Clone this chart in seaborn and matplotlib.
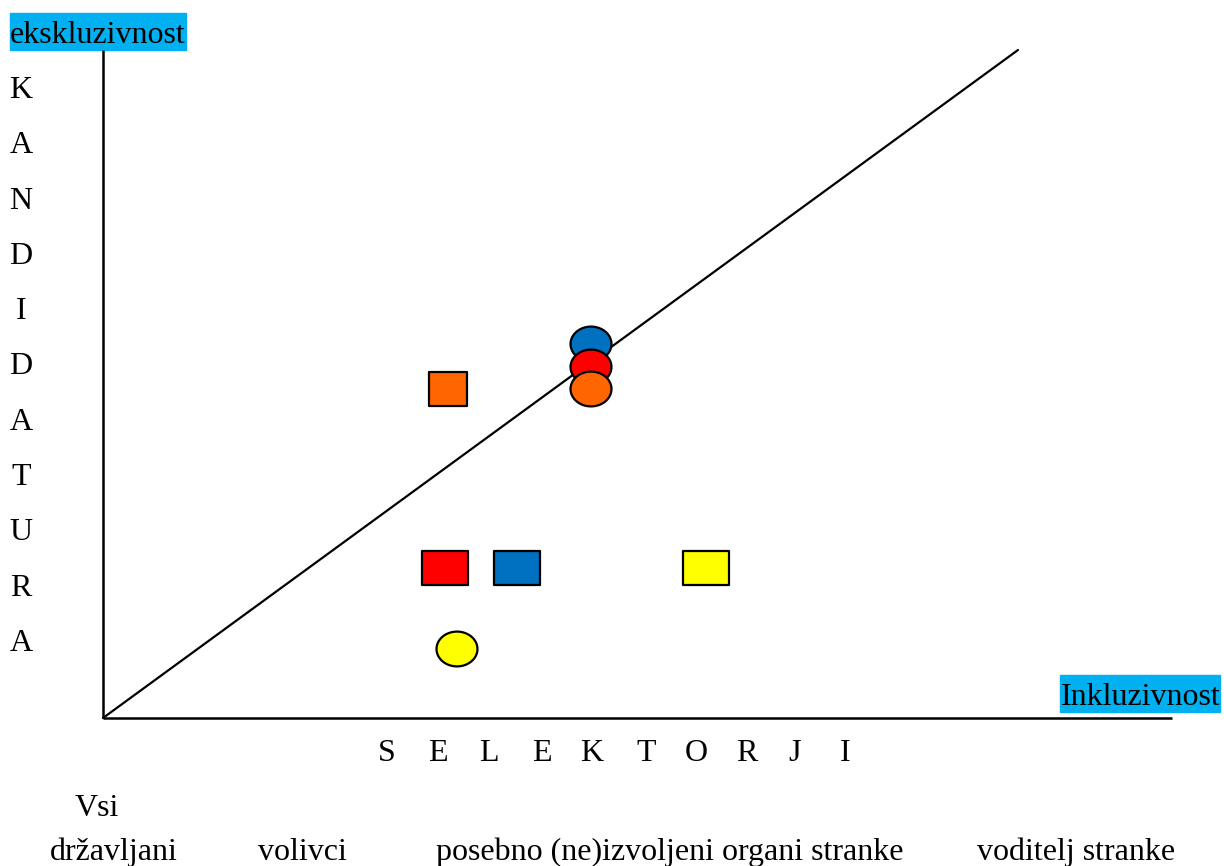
import numpy as np
import pandas as pd
import matplotlib
matplotlib.use("Agg")
import matplotlib.pyplot as plt
from matplotlib.path import Path
from matplotlib.patches import Rectangle
import seaborn as sns

# ------------------------
# PODATKI
# ------------------------
# x = inkluzivnost selektorjev, y = ekskluzivnost kandidature
oblika = ["kvadrat", "pravokotnik", "pravokotnik", "pravokotnik",
          "elipsa", "elipsa", "elipsa", "elipsa"]
barva = ["oranzna", "rdeca", "modra", "rumena",
         "modra", "rdeca", "oranzna", "rumena"]
inkluzivnost = [3.45, 3.42, 4.14, 6.03, 4.88, 4.88, 4.88, 3.54]
ekskluzivnost = [3.29, 1.50, 1.50, 1.50, 3.74, 3.51, 3.29, 0.69]

diagonala_x = [0.0, 9.15]
diagonala_y = [0.0, 6.68]

kandidatura = list("KANDIDATURA")
selektorji = list("SELEKTORJI")
kategorije = ["državljani", "volivci", "posebno (ne)izvoljeni organi stranke", "voditelj stranke"]

df = pd.DataFrame({"oblika": oblika, "barva": barva,
                   "x": inkluzivnost, "y": ekskluzivnost})

# ------------------------
# STIL
# ------------------------
sns.set_theme(style="white")
plt.rcParams["font.family"] = ["Liberation Serif", "DejaVu Serif"]
plt.rcParams["text.color"] = "black"

paleta = {"oranzna": "#FF6600", "rdeca": "#FF0000",
          "modra": "#0070C0", "rumena": "#FFFF00"}

def pot(razmerje, elipsa=False):
    if elipsa:
        t = np.linspace(0, 2 * np.pi, 60)
        return Path(np.column_stack([np.cos(t), razmerje * np.sin(t)]), closed=True)
    return Path([(-1, -razmerje), (1, -razmerje), (1, razmerje),
                 (-1, razmerje), (-1, -razmerje)], closed=True)

markerji = {"kvadrat": (pot(0.89), 750),
            "pravokotnik": (pot(0.76), 1070),
            "elipsa": (pot(0.85, elipsa=True), 870)}

FS = 23
HL = "#00B0F0"

def px(x, y):
    # pretvorba iz pikslov slike v koordinate grafa
    return (x - 103) / 100, (718 - y) / 100

# ------------------------
# GRAF
# ------------------------
fig = plt.figure(figsize=(12.24, 8.66), dpi=100)
ax = fig.add_axes([0, 0, 1, 1])
ax.set_xlim(-1.03, 11.21)
ax.set_ylim(-1.48, 7.18)
ax.axis("off")

# osi
ax.plot([0, 0], [0, 6.68], color="black", lw=1.8, solid_capstyle="butt")
ax.plot([0, 10.69], [0, 0], color="black", lw=1.8, solid_capstyle="butt")

# diagonala
sns.lineplot(x=diagonala_x, y=diagonala_y, color="black", lw=1.6, ax=ax)

for ime in ["kvadrat", "pravokotnik", "elipsa"]:
    marker, velikost = markerji[ime]
    sns.scatterplot(data=df[df["oblika"] == ime], x="x", y="y", hue="barva",
                    palette=paleta, marker=marker, s=velikost,
                    edgecolor="black", linewidth=1.6, legend=False, ax=ax, zorder=3)

# oznake osi z osvetlitvijo
x0, y0 = px(10, 50)
ax.add_patch(Rectangle((x0, y0), 1.76, 0.37, color=HL, zorder=1))
ax.text(*px(10, 43), "ekskluzivnost", fontsize=FS, va="baseline", ha="left", zorder=2)

x0, y0 = px(1060, 712)
ax.add_patch(Rectangle((x0, y0), 1.60, 0.37, color=HL, zorder=1))
ax.text(*px(1061, 705), "Inkluzivnost", fontsize=FS, va="baseline", ha="left", zorder=2)

# navpično: KANDIDATURA
for i, crka in enumerate(kandidatura):
    ax.text(*px(21, 98 + i * 55.3), crka, fontsize=FS, va="baseline", ha="center")

# vodoravno: SELEKTORJI
sel_x = [387, 438, 489, 542, 592, 646, 696, 747, 795, 845]
for crka, xx in zip(selektorji, sel_x):
    ax.text(*px(xx, 761), crka, fontsize=FS, va="baseline", ha="center")

ax.text(*px(75, 816), "Vsi", fontsize=FS, va="baseline", ha="left")
kat_x = [50, 258, 436, 977]
for kat, xx in zip(kategorije, kat_x):
    ax.text(*px(xx, 860), kat, fontsize=FS, va="baseline", ha="left")

plt.savefig("out.png", dpi=100)
